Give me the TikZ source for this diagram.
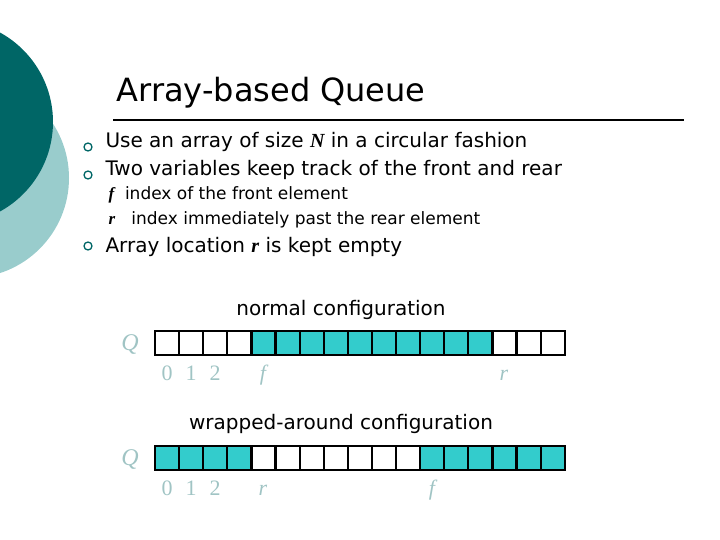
\documentclass[tikz,border=0pt]{standalone}
\usepackage{fontspec}
\setmainfont{DejaVu Sans}
\newfontfamily\idxfont{Liberation Serif}
\usepackage{tikz}
\usetikzlibrary{positioning}
\definecolor{darkteal}{HTML}{006666}
\definecolor{lightteal}{HTML}{99CCCC}
\definecolor{cellfill}{HTML}{33CCCC}
\definecolor{idxgray}{HTML}{A0C4C4}

\begin{document}
\begin{tikzpicture}[x=1pt,y=-1pt,
    cell/.style={draw=black,line width=2.2pt,minimum size=24.1pt,inner sep=0pt,outer sep=0pt},
    full/.style={cell,fill=cellfill},
    idx/.style={text=idxgray,font=\fontsize{22}{24}\selectfont\idxfont,anchor=base},
    idxit/.style={idx,font=\fontsize{22}{24}\selectfont\idxfont\itshape},
    item/.style={anchor=base west,font=\fontsize{20}{24}\selectfont},
    subitem/.style={anchor=base west,font=\fontsize{17}{20}\selectfont},
    bull/.style={circle,draw=darkteal,line width=1.3pt,minimum size=8pt,inner sep=0pt}]
  \useasboundingbox (0,0) rectangle (720,540);
  \fill[lightteal] (-31,178) circle (100);
  \fill[darkteal] (-49,122) circle (102);

  \node (title) [anchor=base west,font=\fontsize{32}{36}\selectfont] at (113,102) {Array-based Queue};
  \draw[line width=1.2pt] (113,120) -- (684,120);

  \node[bull] (b1) at (88,147) {};
  \node[bull] (b2) at (88,175) {};
  \node[bull] (b3) at (88,246) {};
  \node[item] (t1) at (102,148) {Use an array of size {\idxfont\bfseries\itshape N} in a circular fashion};
  \node[item] (t2) at (102,176) {Two variables keep track of the front and rear};
  \node[subitem] (s1) at (105,200) {{\idxfont\bfseries\itshape f}~~index of the front element};
  \node[subitem] (s2) at (105,225) {{\idxfont\bfseries\itshape r}~~~index immediately past the rear element};
  \node[item] (t3) at (102,252) {Array location {\idxfont\bfseries\itshape r} is kept empty};

  % normal configuration
  \node (normal) [anchor=base,font=\fontsize{20}{24}\selectfont] at (341,315) {normal configuration};
  \node[idxit,font=\fontsize{24}{24}\selectfont\idxfont\itshape] (q1) at (130,350) {Q};
  \foreach \i in {0,...,16} {
    \pgfmathsetmacro\cx{155+24.1*\i+12.05}
    \ifnum\i<4 \node[cell] (n\i) at (\cx,343) {};
    \else\ifnum\i<14 \node[full] (n\i) at (\cx,343) {};
    \else \node[cell] (n\i) at (\cx,343) {};\fi\fi
  }
  \node[idx] (n0l) at (167,380) {0};
  \node[idx] (n1l) at (191,380) {1};
  \node[idx] (n2l) at (215,380) {2};
  \node[idxit] (nf) at (263,380) {f};
  \node[idxit] (nr) at (504,380) {r};

  % wrapped-around configuration
  \node (wrapped) [anchor=base,font=\fontsize{20}{24}\selectfont] at (341,429) {wrapped-around configuration};
  \node[idxit,font=\fontsize{24}{24}\selectfont\idxfont\itshape] (q2) at (130,465) {Q};
  \foreach \i in {0,...,16} {
    \pgfmathsetmacro\cx{155+24.1*\i+12.05}
    \ifnum\i<4 \node[full] (w\i) at (\cx,458) {};
    \else\ifnum\i<11 \node[cell] (w\i) at (\cx,458) {};
    \else \node[full] (w\i) at (\cx,458) {};\fi\fi
  }
  \node[idx] (w0l) at (167,495) {0};
  \node[idx] (w1l) at (191,495) {1};
  \node[idx] (w2l) at (215,495) {2};
  \node[idxit] (wr) at (263,495) {r};
  \node[idxit] (wf) at (432,495) {f};
\end{tikzpicture}
\end{document}
